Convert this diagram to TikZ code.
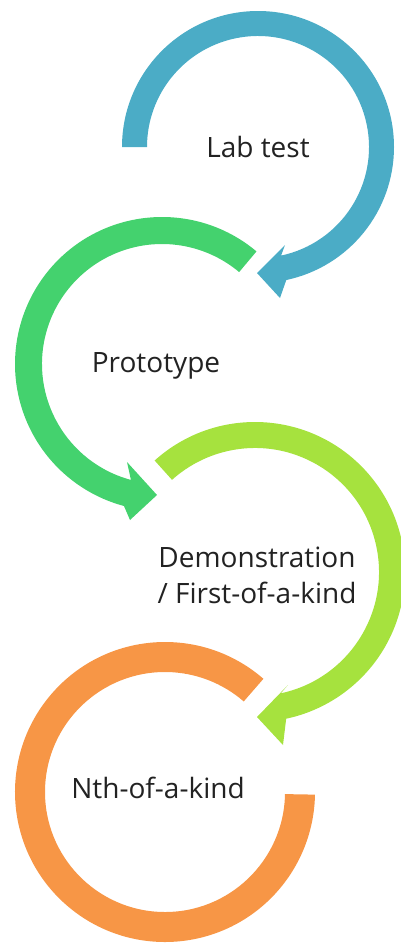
\documentclass[tikz,border=0pt]{standalone}
\usepackage{fontspec}
\setmainfont{Open Sans}
\definecolor{cblue}{HTML}{4BACC6}
\definecolor{cgreen}{HTML}{44D26E}
\definecolor{clime}{HTML}{A6E23E}
\definecolor{corange}{HTML}{F79646}
\definecolor{ctext}{HTML}{222222}
\begin{document}
\begin{tikzpicture}[x=1pt,y=1pt,
  label/.style={text=ctext,font=\fontsize{28}{36}\selectfont,inner sep=0pt,anchor=base,align=center}]
\useasboundingbox (0,0) rectangle (400,-945);
\coordinate (bc) at (258,-147);
\coordinate (gc) at (162,-364);
\coordinate (lc) at (255,-572);
\coordinate (oc) at (165,-792);
% blue arc
\fill[cblue] ([shift={(180:136)}]bc) arc[start angle=180,end angle=-78,radius=136]
  -- (280,-298) -- (257,-273) -- (285,-245)
  -- ([shift={(-78:111)}]bc) arc[start angle=-78,end angle=180,radius=111] -- cycle;
% green arc
\fill[cgreen] ([shift={(50:147)}]gc) arc[start angle=50,end angle=255,radius=147]
  -- (130,-520) -- (157,-495) -- (127,-462)
  -- ([shift={(255:120)}]gc) arc[start angle=255,end angle=50,radius=120] -- cycle;
% lime arc
\fill[clime] ([shift={(132:150)}]lc) arc[start angle=132,end angle=-78,radius=150]
  -- (283,-745) -- (257,-717) -- (288,-685)
  -- ([shift={(-78:124)}]lc) arc[start angle=-78,end angle=132,radius=124] -- cycle;
% orange arc
\fill[corange] ([shift={(49:150)}]oc) arc[start angle=49,end angle=359,radius=150]
  -- ([shift={(359:120)}]oc) arc[start angle=359,end angle=49,radius=120] -- cycle;
% labels
\node[label] (lab) at (258,-157) {Lab test};
\node[label] (proto) at (156,-372) {Prototype};
\node[label] (demo) at (257,-603) {Demonstration\\/ First-of-a-kind};
\node[label] (nth) at (158,-798) {Nth-of-a-kind};
\end{tikzpicture}
\end{document}
